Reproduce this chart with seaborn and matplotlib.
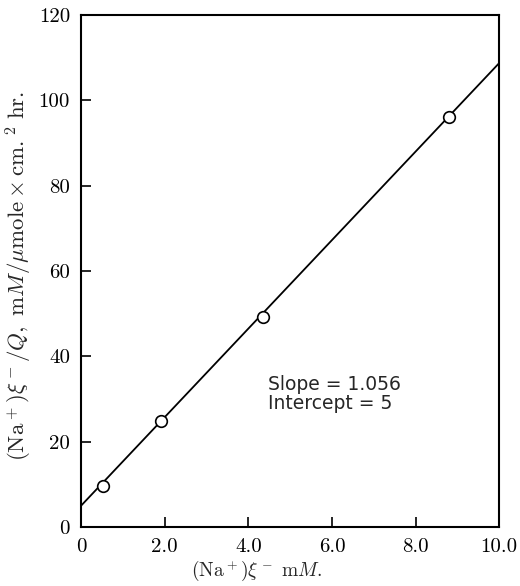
import numpy as np
import pandas as pd
import matplotlib
matplotlib.use("Agg")
import matplotlib.pyplot as plt
import seaborn as sns

na_conc = [0.53, 1.91, 4.35, 8.8]
ratio = [9.6, 24.8, 49.2, 96.0]

# fitted straight line (end points)
fit_x = [0.0, 10.0]
fit_y = [5.0, 108.7]

x_ticks = [0, 2, 4, 6, 8, 10]
x_labels = ["0", "2.0", "4.0", "6.0", "8.0", "10.0"]
y_ticks = [0, 20, 40, 60, 80, 100, 120]
y_labels = ["0", "20", "40", "60", "80", "100", "120"]

pts = pd.DataFrame({"x": na_conc, "y": ratio})
fit = pd.DataFrame({"x": fit_x, "y": fit_y})

sns.set_style("ticks")
plt.rcParams["font.family"] = ["cmr10", "DejaVu Serif"]
plt.rcParams["mathtext.fontset"] = "cm"
plt.rcParams["axes.unicode_minus"] = False

fig = plt.figure(figsize=(5.2, 5.86), dpi=100)
ax = fig.add_axes([0.156, 0.1007, 0.804, 0.874])

sns.lineplot(data=fit, x="x", y="y", color="black", linewidth=1.3, ax=ax)
sns.scatterplot(data=pts, x="x", y="y", marker="o", s=70, facecolor="white",
                edgecolor="black", linewidth=1.2, zorder=3, ax=ax)

ax.set_xlim(0, 10)
ax.set_ylim(0, 120)
ax.set_xticks(x_ticks)
ax.set_xticklabels(x_labels, fontsize=15)
ax.set_yticks(y_ticks)
ax.set_yticklabels(y_labels, fontsize=15)
ax.tick_params(direction="in", length=7, width=1.2, pad=8, colors="black")

for sp in ax.spines.values():
    sp.set_linewidth(1.5)
    sp.set_color("black")

ax.set_xlabel(r"$(\mathrm{Na}^+)\xi^-\ \mathrm{m}M.$", fontsize=14)
ax.xaxis.set_label_coords(0.42, -0.062)
ax.set_ylabel(r"$(\mathrm{Na}^+)\xi^-/Q,\ \mathrm{m}M/\mu\mathrm{mole}\times\mathrm{cm.}^2\ \mathrm{hr.}$",
              fontsize=16.5)
ax.yaxis.set_label_coords(-0.112, 0.49)

ax.text(4.47, 31.2, "Slope = 1.056\nIntercept = 5", fontsize=13.5,
        family="DejaVu Sans", linespacing=1.0, va="center", ha="left")

fig.savefig("out.png", dpi=100)
